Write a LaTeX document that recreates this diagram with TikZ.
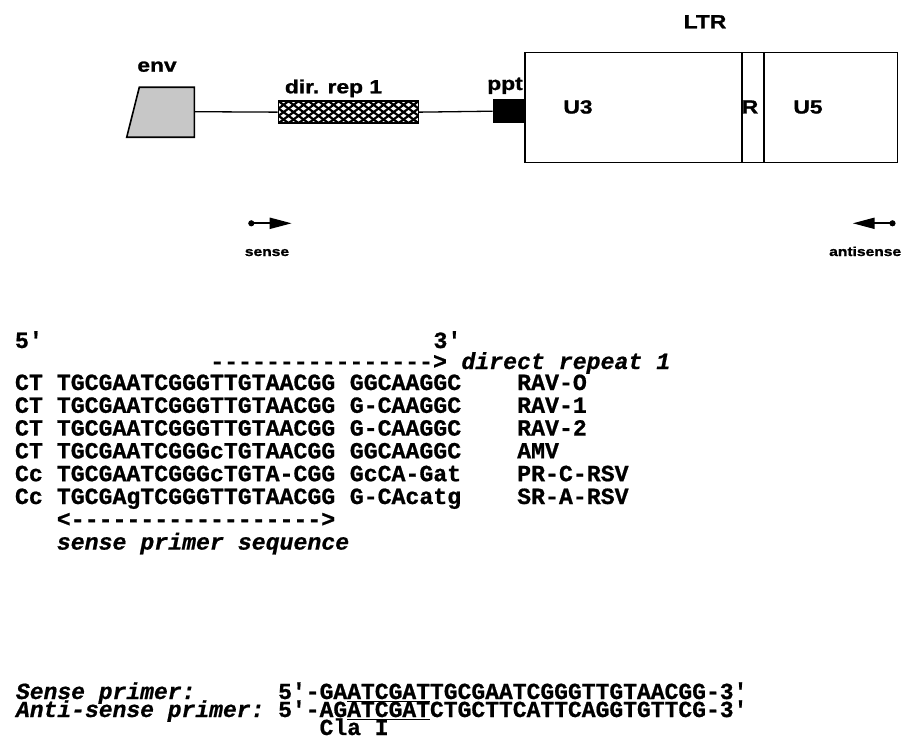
\documentclass[tikz,border=0pt]{standalone}
\usepackage{fontspec}
\setmonofont{Liberation Mono}[BoldFeatures={FakeBold=0.8}, BoldItalicFeatures={FakeBold=0.8}]
\newfontfamily\lblfont{Liberation Sans Bold}[FakeStretch=1.2, FakeBold=1.2]
\usetikzlibrary{arrows.meta}
\tikzset{
  seq/.style={anchor=base west, inner sep=0pt, outer sep=0pt, font=\ttfamily\bfseries\fontsize{23.2}{23}\selectfont},
  seqb/.style={anchor=base west, inner sep=0pt, outer sep=0pt, font=\ttfamily\bfseries\fontsize{23}{23}\selectfont},
  seqit/.style={seq, font=\ttfamily\bfseries\itshape\fontsize{23.2}{23}\selectfont},
  seqbit/.style={seq, font=\ttfamily\bfseries\itshape\fontsize{23}{23}\selectfont},
  lbl/.style={anchor=base, inner sep=0pt, font=\lblfont\fontsize{19}{19}\selectfont},
  smalllbl/.style={inner sep=0pt, font=\lblfont\fontsize{13}{13}\selectfont},
  box/.style={draw, line width=1.6pt, inner sep=0pt},
  backbone/.style={line width=1.3pt},
  primer/.style={line width=2pt, {Circle[length=6pt]}-{Triangle[length=22pt,width=11pt]}},
  uline/.style={line width=1.6pt},
}
\begin{document}
\begin{tikzpicture}[x=1pt,y=-1pt]
\useasboundingbox (0,0) rectangle (901,743);
% ---------------- map ----------------
\fill[black!22] (139.3,87.3) -- (194.3,87.3) -- (194.3,137.3) -- (126.7,137.3) -- cycle;
\draw[line width=1.6pt, line join=miter] (139.3,87.3) -- (194.3,87.3) -- (194.3,137.3) -- (126.7,137.3) -- cycle;
\coordinate (envR) at (194.3,111.7);
\node[lbl] (envlbl) at (157,71.7) {env};
% crosshatch of direct repeat
\begin{scope}
  \clip (278.3,101) rectangle (418.3,123.3);
  \foreach \k in {-4,...,15} {
    \draw[line width=2.2pt] ({278.3+\k*10},123.3) -- ++(30.5,-22.3);
    \draw[line width=2.2pt] ({278.3+\k*10},101) -- ++(30.5,22.3);
  }
\end{scope}
\node[box, minimum width=140pt, minimum height=22.3pt] (rep) at (348.3,112.15) {};
\node[lbl] (replbl) at (333.5,93.3) {dir. rep 1};
\node[fill=black, inner sep=0pt, minimum width=31.3pt, minimum height=24.3pt] (ppt) at (508.4,111.2) {};
\node[lbl] (pptlbl) at (505,90) {ppt};
\draw[backbone] (envR) -- (rep.west);
\draw[backbone] (rep.east) -- (ppt.west);
% LTR
\node[box, minimum width=216.7pt, minimum height=110pt, anchor=north west] (u3) at (524.3,51.7) {};
\node[box, minimum width=22.3pt, minimum height=110pt, anchor=north west] (rr) at (741,51.7) {};
\node[box, minimum width=133.4pt, minimum height=110pt, anchor=north west] (u5) at (763.3,51.7) {};
\node[lbl] (ltrlbl) at (705,28.3) {LTR};
\node[lbl] (u3lbl) at (578,113.5) {U3};
\node[lbl] (rlbl) at (750,113.5) {R};
\node[lbl] (u5lbl) at (808,113.5) {U5};
% primers
\coordinate (sA) at (248.3,223.3);
\coordinate (sB) at (291.7,223.3);
\draw[primer] (sA) -- (sB);
\node[smalllbl, anchor=base] (senselbl) at (267,256) {sense};
\coordinate (aA) at (895.5,223.3);
\coordinate (aB) at (852.7,223.3);
\draw[primer] (aA) -- (aB);
\node[smalllbl, anchor=base west] (antilbl) at (829,256) {antisense};
% ---------------- alignment ----------------
\node[seq] (p5) at (15,348) {5'};
\node[seq] (p3) at ({15+30*13.95},348) {3'};
\node[seq] (drarrow) at ({15+14*13.95},369) {---------------->};
\node[seqit] (drtxt) at ({15+32*13.95},369) {direct repeat 1};
% rows
\node[seq] (r1a) at (15,390) {CT};
\node[seq] (r1b) at ({15+3*13.95},390) {TGCGAATCGGGTTGTAACGG};
\node[seq] (r1c) at ({15+24*13.95},390) {GGCAAGGC};
\node[seq] (r1d) at ({15+36*13.95},390) {RAV-O};
\node[seq] (r2a) at (15,412.8) {CT};
\node[seq] (r2b) at ({15+3*13.95},412.8) {TGCGAATCGGGTTGTAACGG};
\node[seq] (r2c) at ({15+24*13.95},412.8) {G-CAAGGC};
\node[seq] (r2d) at ({15+36*13.95},412.8) {RAV-1};
\node[seq] (r3a) at (15,435.6) {CT};
\node[seq] (r3b) at ({15+3*13.95},435.6) {TGCGAATCGGGTTGTAACGG};
\node[seq] (r3c) at ({15+24*13.95},435.6) {G-CAAGGC};
\node[seq] (r3d) at ({15+36*13.95},435.6) {RAV-2};
\node[seq] (r4a) at (15,458.4) {CT};
\node[seq] (r4b) at ({15+3*13.95},458.4) {TGCGAATCGGGcTGTAACGG};
\node[seq] (r4c) at ({15+24*13.95},458.4) {GGCAAGGC};
\node[seq] (r4d) at ({15+36*13.95},458.4) {AMV};
\node[seq] (r5a) at (15,481.2) {Cc};
\node[seq] (r5b) at ({15+3*13.95},481.2) {TGCGAATCGGGcTGTA-CGG};
\node[seq] (r5c) at ({15+24*13.95},481.2) {GcCA-Gat};
\node[seq] (r5d) at ({15+36*13.95},481.2) {PR-C-RSV};
\node[seq] (r6a) at (15,504) {Cc};
\node[seq] (r6b) at ({15+3*13.95},504) {TGCGAgTCGGGTTGTAACGG};
\node[seq] (r6c) at ({15+24*13.95},504) {G-CAcatg};
\node[seq] (r6d) at ({15+36*13.95},504) {SR-A-RSV};
\node[seq] (sparrow) at ({15+3*13.95},526.8) {<------------------>};
\node[seqit] (sptxt) at ({15+3*13.95},549.6) {sense primer sequence};
% ---------------- primers ----------------
\node[seqbit] (sp) at (16,699) {Sense primer:};
\node[seqb] (spa) at ({16+19*13.8},699) {5'-GA};
\node[seqb] (spb) at ({16+24*13.8},699) {ATCGAT};
\node[seqb] (spc) at ({16+30*13.8},699) {TGCGAATCGGGTTGTAACGG-3'};
\draw[uline] ([yshift=-2.5pt]spb.base west) -- ([yshift=-2.5pt]spb.base east);
\node[seqbit] (ap) at (16,717) {Anti-sense primer:};
\node[seqb] (apa) at ({16+19*13.8},717) {5'-AG};
\node[seqb] (apb) at ({16+24*13.8},717) {ATCGAT};
\node[seqb] (apc) at ({16+30*13.8},717) {CTGCTTCATTCAGGTGTTCG-3'};
\draw[uline] ([yshift=-2.5pt]apb.base west) -- ([yshift=-2.5pt]apb.base east);
\node[seqb] (cla) at ({16+22*13.8},735) {Cla I};
\end{tikzpicture}
\end{document}
